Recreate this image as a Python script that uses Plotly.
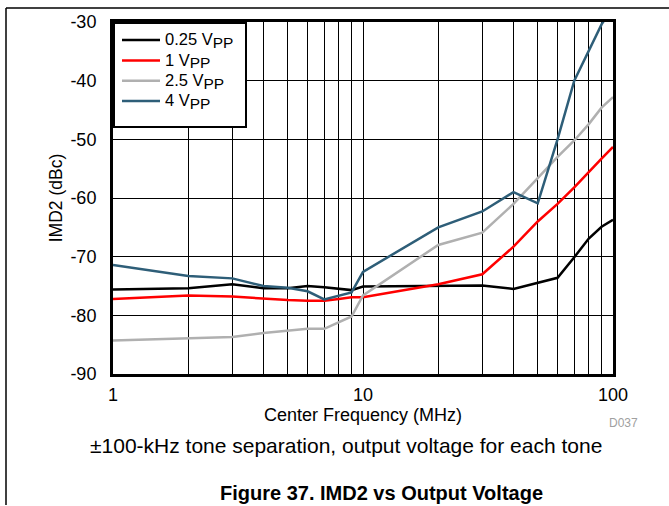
import plotly.graph_objects as go

# ---- data ----
freq_mhz = [1, 2, 3, 4, 5, 6, 7, 8, 9, 10, 20, 30, 40, 50, 60, 70, 80, 90, 100]
imd2_025vpp = [-75.6, -75.4, -74.7, -75.4, -75.4, -75.0, -75.2, -75.4, -75.7, -75.1,
               -74.9, -74.9, -75.5, -74.5, -73.6, -70.1, -66.9, -64.9, -63.7]
imd2_1vpp = [-77.2, -76.6, -76.8, -77.2, -77.4, -77.5, -77.5, -77.2, -76.9, -76.9,
             -74.7, -73.0, -68.3, -64.0, -61.0, -58.2, -55.5, -53.3, -51.3]
imd2_25vpp = [-84.3, -84.0, -83.7, -83.0, -82.6, -82.3, -82.3, -81.2, -80.2, -76.6,
              -68.0, -65.9, -61.0, -56.6, -53.0, -50.2, -47.4, -44.6, -42.8]
imd2_4vpp = [-71.4, -73.3, -73.7, -75.0, -75.3, -75.9, -77.3, -76.6, -76.1, -72.6,
             -65.0, -62.3, -59.0, -60.9, -50.0, -40.0, -34.8, -30.4, -27.5]

voltage_labels = ["0.25", "1", "2.5", "4"]
series_values = [imd2_025vpp, imd2_1vpp, imd2_25vpp, imd2_4vpp]
series_colors = ["#000000", "#ff0000", "#b0b0b0", "#2e5e78"]

x_tickvals = [1, 10, 100]
x_ticktext = ["1", "10", "100"]
y_tickvals = [-90, -80, -70, -60, -50, -40, -30]
y_ticktext = ["-90", "-80", "-70", "-60", "-50", "-40", "-30"]

FONT = "Arial, 'Liberation Sans', sans-serif"


def legend_name(v):
    return ("<span style='font-size:16.5px'>" + v + " V</span>"
            "<sub><span style='font-size:15.5px'>PP</span></sub>")


fig = go.Figure()
for v, vals, col in zip(voltage_labels, series_values, series_colors):
    fig.add_trace(go.Scatter(x=freq_mhz, y=vals, mode="lines", name=legend_name(v),
                             line=dict(color=col, width=2.5)))

# plot area: x 113..613 px, y 19..374 px
L, R, T, B = 113, 613, 19, 374
W, H = 669, 506
def px(x):
    return (x - L) / (R - L)
def py(y):
    return (B - y) / (B - T)

minor_x = [2, 3, 4, 5, 6, 7, 8, 9, 20, 30, 40, 50, 60, 70, 80, 90]

fig.update_layout(
    width=W, height=H,
    margin=dict(l=L, r=W - R, t=T, b=H - B, pad=0),
    paper_bgcolor="white", plot_bgcolor="white",
    font=dict(family=FONT, color="black", size=15),
    showlegend=True,
    legend=dict(x=px(117), y=py(22), xanchor="left", yanchor="top",
                bgcolor="rgba(0,0,0,0)", borderwidth=0,
                font=dict(family=FONT, size=13.3, color="black"),
                itemwidth=38, tracegroupgap=0),
    xaxis=dict(type="log", range=[0, 2], tickvals=x_tickvals, ticktext=x_ticktext,
               showgrid=True, gridcolor="black", gridwidth=1,
               minor=dict(tickvals=minor_x, showgrid=True, gridcolor="black", gridwidth=1, ticks=""),
               ticks="", showline=True, linecolor="black", linewidth=3, mirror=True,
               tickfont=dict(size=18, family=FONT), ticklabelstandoff=2,
               title=dict(text="Center Frequency (MHz)", font=dict(size=18, family=FONT), standoff=2),
               zeroline=False),
    yaxis=dict(range=[-90, -30], tickvals=y_tickvals, ticktext=y_ticktext,
               showgrid=True, gridcolor="black", gridwidth=1,
               ticks="", showline=True, linecolor="black", linewidth=3, mirror=True,
               tickfont=dict(size=18, family=FONT), ticklabelstandoff=10,
               title=dict(text="IMD2 (dBc)", font=dict(size=17.5, family=FONT), standoff=4),
               zeroline=False),
)

# legend box (drawn as a shape so its size matches the reference)
fig.add_shape(type="rect", xref="paper", yref="paper", layer="above",
              x0=px(114), x1=px(246), y0=py(20), y1=py(125),
              fillcolor="white", line=dict(color="black", width=2))

# page frame lines (top and left)
fig.add_shape(type="line", xref="paper", yref="paper",
              x0=px(6), x1=px(669), y0=py(5), y1=py(5), line=dict(color="black", width=1.5))
fig.add_shape(type="line", xref="paper", yref="paper",
              x0=px(6), x1=px(6), y0=py(5), y1=py(506), line=dict(color="black", width=1.5))

fig.add_annotation(text="D037", xref="paper", yref="paper", x=px(623), y=py(423),
                   xanchor="center", yanchor="middle",
                   showarrow=False, font=dict(size=12, color="#a0a0a0", family=FONT))
fig.add_annotation(text="±100-kHz tone separation, output voltage for each tone",
                   xref="paper", yref="paper", x=px(346), y=py(446),
                   xanchor="center", yanchor="middle",
                   showarrow=False, font=dict(size=21, color="black", family=FONT))
fig.add_annotation(text="<b>Figure 37. IMD2 vs Output Voltage</b>",
                   xref="paper", yref="paper", x=px(381), y=py(494),
                   xanchor="center", yanchor="middle",
                   showarrow=False, font=dict(size=20, color="black", family=FONT))

fig.write_html("out.html", config={"displayModeBar": False},
               post_script="document.body.style.margin='0px';")
